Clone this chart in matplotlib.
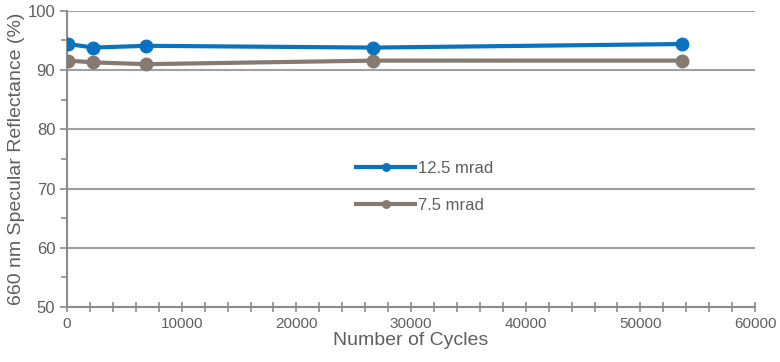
import matplotlib.pyplot as plt
from matplotlib.ticker import MultipleLocator

plt.rcParams['font.family'] = ['Liberation Sans', 'DejaVu Sans']

cycles = [100, 2300, 6900, 26700, 53600]
refl_125 = [94.4, 93.8, 94.1, 93.8, 94.4]
refl_75 = [91.6, 91.3, 91.0, 91.6, 91.6]
labels = ['12.5 mrad', '7.5 mrad']

grey = '#8c8c8c'
text_c = '#5f5f5f'

fig = plt.figure(figsize=(7.8, 3.62), dpi=100)
ax = fig.add_axes([0.086, 0.152, 0.882, 0.818])

ax.plot(cycles, refl_125, color='#0a73bf', lw=3, marker='o', ms=9, label=labels[0], zorder=3)
ax.plot(cycles, refl_75, color='#857970', lw=3, marker='o', ms=9, label=labels[1], zorder=3)

ax.set_xlim(0, 60000)
ax.set_ylim(50, 100)
ax.xaxis.set_major_locator(MultipleLocator(10000))
ax.xaxis.set_minor_locator(MultipleLocator(2000))
ax.yaxis.set_major_locator(MultipleLocator(10))
ax.yaxis.set_minor_locator(MultipleLocator(5))
ax.grid(axis='y', which='major', color='#a0a0a0', lw=1.5)
ax.set_axisbelow(True)

for s in ['top', 'right']:
    ax.spines[s].set_visible(False)
for s in ['left', 'bottom']:
    ax.spines[s].set_color(grey)
    ax.spines[s].set_linewidth(1.5)
ax.tick_params(which='both', color=grey, width=1.2, labelcolor=text_c, labelsize=11)
ax.tick_params(axis='y', labelsize=12)
ax.tick_params(which='major', length=5)
ax.tick_params(which='minor', length=4)
ax.tick_params(axis='x', direction='inout', which='both', length=7)

ax.set_xlabel('Number of Cycles', fontsize=14, color=text_c, labelpad=1)
ax.set_ylabel('660 nm Specular Reflectance (%)', fontsize=14, color=text_c, labelpad=2)

leg = ax.legend(loc='center', bbox_to_anchor=(0.52, 0.405), frameon=False, fontsize=12,
                labelcolor=text_c, handlelength=3.5, markerscale=0.6, labelspacing=1.3,
                handletextpad=0.2)

fig.savefig('out.png', dpi=100)
